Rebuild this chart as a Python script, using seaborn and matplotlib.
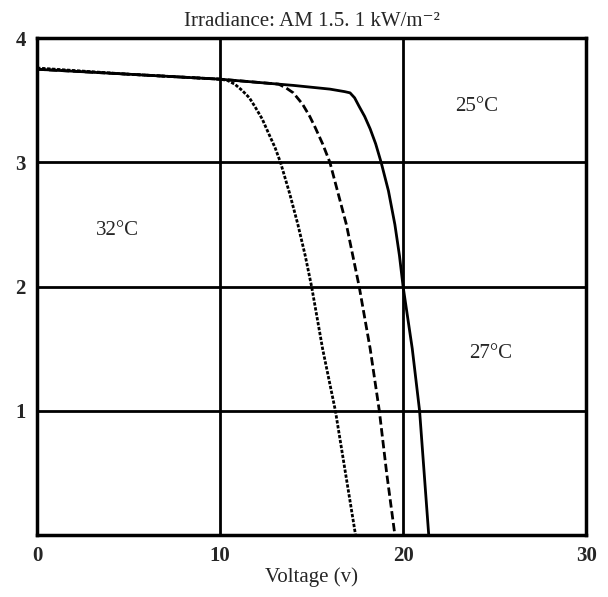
import matplotlib
matplotlib.use('Agg')
import matplotlib.pyplot as plt
import seaborn as sns
import pandas as pd

# I-V curves (voltage in V, current in A)
v_25 = [0, 5, 10, 14, 16, 16.8, 17.1, 17.35, 17.6, 17.9, 18.2, 18.5, 18.8, 19.2, 19.55,
        19.8, 20.0, 20.25, 20.5, 20.7, 20.9, 21.15, 21.4]
i_25 = [3.75, 3.71, 3.67, 3.62, 3.59, 3.57, 3.56, 3.52, 3.45, 3.37, 3.27, 3.15, 3.0, 2.77, 2.5,
        2.25, 2.0, 1.75, 1.5, 1.25, 1.0, 0.5, 0.0]

v_27 = [0, 5, 10, 13.2, 13.6, 14.0, 14.5, 14.9, 15.2, 15.6, 16.0, 16.45, 16.9, 17.25, 17.6,
        18.2, 18.7, 19.1, 19.55]
i_27 = [3.75, 3.71, 3.67, 3.63, 3.6, 3.56, 3.47, 3.37, 3.28, 3.15, 3.0, 2.75, 2.5, 2.25, 2.0,
        1.5, 1.0, 0.5, 0.0]

v_32 = [0, 5, 10, 10.4, 10.8, 11.2, 11.6, 11.9, 12.3, 12.6, 13.0, 13.3, 13.8, 14.25, 14.65,
        15.0, 15.6, 16.3, 16.85, 17.4]
i_32 = [3.76, 3.71, 3.67, 3.66, 3.63, 3.58, 3.52, 3.45, 3.35, 3.25, 3.12, 3.0, 2.75, 2.5, 2.25,
        2.0, 1.5, 1.0, 0.5, 0.0]

x_ticks = [0, 10, 20, 30]
y_ticks = [1, 2, 3, 4]

labels = ['25°C', '27°C', '32°C']
label_pos = [(24.0, 3.45), (24.8, 1.46), (4.4, 2.45)]

sns.set_style('white')
plt.rcParams['font.family'] = ['Liberation Serif', 'DejaVu Serif']

fig = plt.figure(figsize=(6.08, 5.97), dpi=100)
ax = fig.add_axes([0.061, 0.104, 0.903, 0.832])

df25 = pd.DataFrame({'v': v_25, 'i': i_25})
df27 = pd.DataFrame({'v': v_27, 'i': i_27})
df32 = pd.DataFrame({'v': v_32, 'i': i_32})

sns.lineplot(data=df32, x='v', y='i', sort=False, color='black', lw=2, ax=ax,
             linestyle=(0, (1.2, 0.6)))
sns.lineplot(data=df27, x='v', y='i', sort=False, color='black', lw=2, ax=ax,
             linestyle=(0, (3, 1.3)))
sns.lineplot(data=df25, x='v', y='i', sort=False, color='black', lw=2, ax=ax)

ax.set_xlim(0, 30)
ax.set_ylim(0, 4)
ax.set_xticks(x_ticks)
ax.set_yticks(y_ticks)
ax.set_xticklabels([str(t) for t in x_ticks], fontsize=15, fontweight='bold')
ax.set_yticklabels([str(t) for t in y_ticks], fontsize=15, fontweight='bold')
ax.tick_params(length=0, pad=8)

ax.grid(True, color='black', lw=2)
for s in ax.spines.values():
    s.set_color('black')
    s.set_linewidth(2.5)

for txt, (x, y) in zip(labels, label_pos):
    ax.text(x, y, txt, fontsize=15, ha='center', va='center')

ax.set_xlabel('Voltage (v)', fontsize=15, labelpad=1)
ax.set_ylabel('')
ax.set_title('Irradiance: AM 1.5. 1 kW/m⁻²', fontsize=15, pad=9)

fig.savefig('out.png', dpi=100)
